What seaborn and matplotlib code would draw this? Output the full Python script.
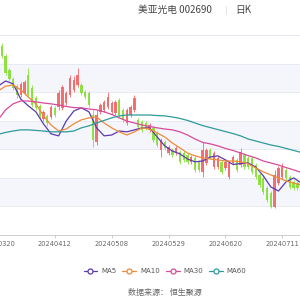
import numpy as np
import pandas as pd
import matplotlib
matplotlib.use("Agg")
import matplotlib.pyplot as plt
from matplotlib.lines import Line2D
import seaborn as sns

# ---- data ----
opens = [26.83, 26.61, 26.27, 25.78, 25.46, 25.22, 24.90, 24.97, 25.60, 25.15,
         24.80, 24.52, 24.06, 24.17, 24.13, 24.45, 24.48, 24.45, 24.62, 24.90,
         25.08, 25.25, 25.25, 25.01, 24.97, 24.20, 23.26, 24.31, 24.38, 24.48,
         24.31, 24.27, 24.73, 24.38, 23.92, 24.20, 24.38, 24.03, 23.96, 23.92,
         23.68, 23.75, 23.57, 22.98, 23.26, 22.87, 22.98, 22.87, 22.91, 22.87,
         22.80, 22.56, 22.70, 22.56, 22.21, 22.52, 22.98, 22.38, 22.38, 22.56,
         22.35, 22.03, 22.52, 22.63, 22.45, 22.80, 22.70, 22.70, 22.45, 22.10,
         22.00, 21.65, 21.47, 20.98, 21.82, 22.03, 22.28, 22.03, 21.86, 21.82,
         21.75]
closes = [26.55, 26.27, 25.67, 25.46, 25.15, 24.90, 25.29, 25.36, 24.90, 24.55,
          24.45, 24.17, 24.31, 23.92, 24.48, 24.20, 24.97, 25.18, 24.97, 25.50,
          25.43, 25.60, 24.97, 24.83, 24.55, 23.33, 24.20, 24.55, 24.66, 24.83,
          24.62, 24.66, 24.20, 24.03, 24.38, 24.48, 24.80, 23.78, 23.68, 23.75,
          23.85, 23.33, 23.15, 23.33, 23.05, 23.08, 22.80, 23.05, 22.56, 22.63,
          22.56, 22.73, 22.28, 22.28, 22.98, 22.98, 22.73, 22.87, 22.70, 22.21,
          22.56, 22.52, 22.73, 22.28, 22.91, 22.38, 22.38, 22.21, 22.03, 21.75,
          21.51, 21.23, 20.98, 22.10, 22.35, 22.38, 21.99, 21.68, 21.65, 21.65,
          21.58]
highs = [26.90, 26.72, 26.34, 25.85, 25.53, 25.29, 25.36, 25.43, 25.85, 25.25,
         24.87, 24.59, 24.38, 24.24, 24.55, 24.52, 25.08, 25.25, 25.04, 25.60,
         25.57, 25.85, 25.32, 25.08, 25.04, 24.38, 24.38, 24.62, 24.73, 25.01,
         24.69, 24.73, 24.80, 24.45, 24.45, 24.55, 24.90, 24.10, 24.03, 23.99,
         23.92, 23.82, 23.64, 23.40, 23.33, 23.15, 23.05, 23.12, 22.98, 22.94,
         22.87, 22.80, 22.77, 22.63, 23.26, 23.05, 23.05, 22.94, 22.77, 22.63,
         22.63, 22.59, 22.80, 22.70, 23.05, 22.87, 22.77, 22.77, 22.52, 22.17,
         22.07, 21.72, 21.54, 22.28, 22.42, 22.52, 22.35, 22.10, 21.93, 21.89,
         21.82]
lows = [26.48, 26.20, 25.60, 25.39, 25.08, 24.80, 24.83, 24.90, 24.83, 24.48,
        24.38, 24.10, 23.99, 23.82, 24.06, 24.13, 24.38, 24.38, 24.55, 24.83,
        25.01, 25.18, 24.90, 24.76, 24.48, 23.08, 23.15, 24.24, 24.31, 24.41,
        24.24, 24.20, 24.13, 23.96, 23.85, 24.13, 24.31, 23.71, 23.61, 23.68,
        23.61, 23.26, 23.08, 22.73, 22.98, 22.80, 22.73, 22.80, 22.49, 22.56,
        22.49, 22.49, 22.21, 22.21, 22.03, 22.45, 22.66, 22.31, 22.31, 22.14,
        22.28, 21.96, 22.45, 22.21, 22.38, 22.31, 22.31, 22.14, 21.96, 21.68,
        21.44, 21.16, 20.95, 20.95, 21.75, 21.96, 21.93, 21.61, 21.58, 21.58,
        21.51]

# moving averages, read every second trading day
ma5 = [25.21, 25.39, 25.29, 24.76, 24.52, 24.31, 23.89, 23.54, 23.47, 23.99,
       24.34, 24.45, 24.31, 23.75, 23.47, 23.50, 23.64, 23.61, 23.68, 23.75,
       23.75, 23.43, 23.12, 22.94, 22.84, 22.66, 22.56, 22.59, 22.73, 22.77,
       22.63, 22.47, 22.50, 22.52, 22.38, 22.07, 21.68, 21.54, 21.86, 22.00,
       21.82]
ma10 = [25.04, 25.21, 25.25, 25.08, 24.83, 24.59, 24.17, 23.85, 23.64, 23.71,
        23.89, 24.03, 24.10, 24.13, 23.92, 23.75, 23.61, 23.50, 23.61, 23.75,
        23.71, 23.57, 23.43, 23.22, 23.05, 22.87, 22.77, 22.70, 22.66, 22.63,
        22.59, 22.59, 22.56, 22.49, 22.35, 22.21, 22.10, 22.00, 21.89, 21.82,
        21.75]
ma30 = [24.03, 24.38, 24.59, 24.69, 24.69, 24.66, 24.62, 24.59, 24.55, 24.50,
        24.46, 24.45, 24.41, 24.38, 24.31, 24.22, 24.10, 23.99, 23.92, 23.85,
        23.80, 23.75, 23.71, 23.68, 23.61, 23.50, 23.36, 23.24, 23.19, 23.12,
        23.03, 22.96, 22.87, 22.78, 22.70, 22.59, 22.52, 22.45, 22.36, 22.28,
        22.19]
ma60 = [23.52, 23.59, 23.64, 23.68, 23.68, 23.66, 23.64, 23.61, 23.61, 23.61,
        23.64, 23.75, 23.82, 23.92, 24.01, 24.10, 24.17, 24.20, 24.20, 24.20,
        24.20, 24.18, 24.17, 24.13, 24.08, 24.01, 23.92, 23.83, 23.76, 23.69,
        23.62, 23.55, 23.47, 23.36, 23.29, 23.22, 23.15, 23.10, 23.03, 22.96,
        22.89]

tick_pos = [0, 15, 30, 45, 60, 75]
tick_labels = ["20240320", "20240412", "20240508", "20240529", "20240620", "20240711"]
ma_names = ["MA5", "MA10", "MA30", "MA60"]
ma_colors = ["#5b3aae", "#ee8a3c", "#d84a9c", "#2f9a9b"]

# ---- figure ----
sns.set_theme(style="white")
plt.rcParams['font.family'] = ['Noto Sans CJK SC', 'DejaVu Sans']

fig = plt.figure(figsize=(3, 3), dpi=100)
fig.patch.set_facecolor("white")
# axes deliberately extends slightly beyond the canvas (cropped chart)
ax = fig.add_axes([-3.9 / 300, 1 - 235 / 300, 307.0 / 300, 200 / 300])
ax.set_facecolor("white")

x = np.arange(len(opens))
o = np.array(opens); c = np.array(closes)
h = np.array(highs); l = np.array(lows)
up = c >= o
red = "#f46a6c"
green = "#8ae03e"

for yb in (21, 23, 25):
    ax.axhspan(yb, yb + 1, color="#f4f6fb", zorder=0, lw=0)

ax.vlines(x[up], l[up], h[up], color=red, lw=0.6, zorder=2)
ax.vlines(x[~up], l[~up], h[~up], color=green, lw=0.6, zorder=2)
ax.bar(x[up], c[up] - o[up], bottom=o[up], width=0.62, color=red, lw=0, zorder=2, alpha=0.95)
ax.bar(x[~up], o[~up] - c[~up], bottom=c[~up], width=0.62, color=green, lw=0, zorder=2, alpha=0.95)

ma_x = np.arange(0, len(opens), 2)
df = pd.DataFrame({"x": ma_x, "MA5": ma5, "MA10": ma10, "MA30": ma30, "MA60": ma60})
for name, col in zip(ma_names, ma_colors):
    sns.lineplot(data=df, x="x", y=name, ax=ax, color=col, lw=0.9, zorder=3, legend=False)

ax.set_xlim(-0.5, 80.5)
ax.set_ylim(20, 27)
ax.set_yticks(range(20, 28))
ax.yaxis.grid(True, color="#e5e8ef", lw=0.6)
ax.xaxis.grid(False)
ax.tick_params(axis="y", left=False, labelleft=False)
ax.set_xticks(tick_pos)
ax.set_xticklabels(tick_labels, fontsize=4.8, color="#666666", family="DejaVu Sans")
ax.tick_params(axis="x", bottom=True, length=2.5, width=0.6, color="#c8c8c8", pad=1.8)
ax.set_xlabel(""); ax.set_ylabel("")
for s in ["left", "right"]:
    ax.spines[s].set_visible(False)
ax.spines["top"].set_color("#e5e8ef"); ax.spines["top"].set_linewidth(0.6)
ax.spines["bottom"].set_color("#c8c8c8"); ax.spines["bottom"].set_linewidth(0.6)

# title
fig.text(138 / 300, 1 - 10 / 300, "美亚光电 002690", fontsize=7, color="#444444",
         ha="left", va="center")
fig.text(235 / 300, 1 - 10 / 300, "日K", fontsize=7, color="#444444",
         ha="left", va="center")
fig.add_artist(Line2D([226 / 300, 226 / 300], [1 - 6 / 300, 1 - 14 / 300],
                      color="#dddddd", lw=0.6, transform=fig.transFigure))

# legend
handles = [Line2D([], [], color=col, lw=0.9, marker="o", markersize=3.6,
                  markerfacecolor="white", markeredgewidth=0.9) for col in ma_colors]
fig.legend(handles, ma_names, loc="center", bbox_to_anchor=(165 / 300, 1 - 271 / 300),
           ncol=4, frameon=False, handlelength=2.0, handletextpad=0.55,
           columnspacing=0.85, labelcolor="#555555", prop={"family": "DejaVu Sans", "size": 5})

# source
fig.text(165 / 300, 1 - 293 / 300, "数据来源： 恒生聚源", fontsize=5.8, color="#666666",
         ha="center", va="center")

fig.savefig("out.png", dpi=100)
